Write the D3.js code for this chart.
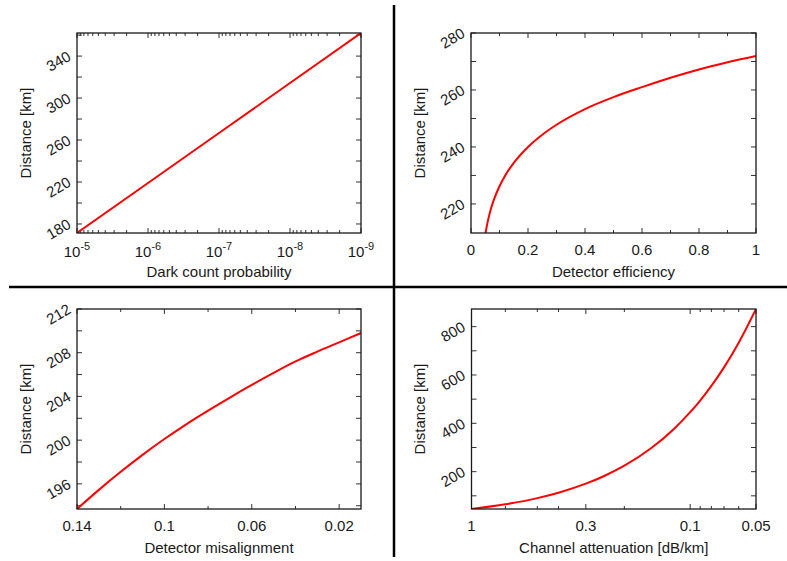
<!DOCTYPE html>
<html>
<head>
<meta charset="utf-8">
<script src="https://cdn.jsdelivr.net/npm/d3@7"></script>
<style>
  html, body { margin: 0; padding: 0; background: #fff; }
  svg { display: block; }
  text { font-family: "Liberation Sans", Arial, sans-serif; fill: #1a1a1a; }
</style>
</head>
<body>
<svg id="chart" width="787" height="561"></svg>
<script>
// ---------------- DATA ----------------
// Panel 1: dark count probability vs distance
const darkCountProb = [1e-5, 1e-6, 1e-7, 1e-8, 1e-9];
const darkCountDistance = [171.5, 219.0, 266.7, 314.3, 362.0];
const p1XTicks = [1e-5, 1e-6, 1e-7, 1e-8, 1e-9];
const p1XExponents = ["-5", "-6", "-7", "-8", "-9"];
const p1YTicks = [180, 220, 260, 300, 340];

// Panel 2: detector efficiency vs distance
const efficiency = [0.05, 0.06, 0.07, 0.08, 0.1, 0.12, 0.15, 0.2, 0.25, 0.3, 0.4, 0.5, 0.6, 0.7, 0.8, 0.9, 1.0];
const efficiencyDistance = [209.3, 214.4, 218.3, 221.4, 226.2, 230.0, 234.4, 240.0, 244.3, 247.8, 253.3, 257.5, 261.0, 264.3, 267.2, 269.7, 271.9];
const p2XTicks = [0, 0.2, 0.4, 0.6, 0.8, 1];
const p2XLabels = ["0", "0.2", "0.4", "0.6", "0.8", "1"];
const p2YTicks = [220, 240, 260, 280];

// Panel 3: detector misalignment vs distance
const misalignment = [0.14, 0.13, 0.12, 0.11, 0.10, 0.09, 0.08, 0.07, 0.06, 0.05, 0.04, 0.03, 0.02, 0.01];
const misalignmentDistance = [193.7, 195.45, 197.1, 198.65, 200.1, 201.45, 202.7, 203.9, 205.05, 206.15, 207.2, 208.1, 208.95, 209.8];
const p3XTicks = [0.14, 0.1, 0.06, 0.02];
const p3XLabels = ["0.14", "0.1", "0.06", "0.02"];
const p3YTicks = [196, 200, 204, 208, 212];

// Panel 4: channel attenuation vs distance
const attenuation = [1, 0.7, 0.5, 0.4, 0.3, 0.25, 0.2, 0.15, 0.12, 0.1, 0.09, 0.08, 0.07, 0.06, 0.05];
const attenuationDistance = [45.5, 64.9, 90.6, 113.0, 150.3, 180.0, 224.5, 298.7, 372.5, 446.0, 494.4, 555.0, 631.4, 733.3, 873.0];
const p4XTicks = [1, 0.3, 0.1, 0.05];
const p4XLabels = ["1", "0.3", "0.1", "0.05"];
const p4XMinor = [0.7, 0.5, 0.4, 0.2, 0.09, 0.08, 0.07, 0.06];
const p4YTicks = [200, 400, 600, 800];

// ---------------- DRAWING ----------------
const svg = d3.select("#chart");
const FONT = 15;

function logMinor(lo, hi) {
  const out = [];
  for (let e = Math.floor(Math.log10(lo)); e < Math.ceil(Math.log10(hi)); e++) {
    for (let m = 2; m <= 9; m++) {
      const v = m * Math.pow(10, e);
      if (v > lo && v < hi) out.push(v);
    }
  }
  return out;
}

function drawPanel(cfg) {
  const {x0, x1, y0, y1} = cfg;
  const x = cfg.xScale.range([x0, x1]);
  const y = d3.scaleLinear().domain(cfg.yDomain).range([y1, y0]);
  const g = svg.append("g");

  const clipId = "clip" + cfg.id;
  svg.append("clipPath").attr("id", clipId)
    .append("rect").attr("x", x0).attr("y", y0).attr("width", x1 - x0).attr("height", y1 - y0);

  // ticks (inside, mirrored)
  const tickG = g.append("g").attr("stroke", "#333").attr("stroke-width", 1);
  function xt(vals, len) {
    vals.forEach(v => {
      const px = x(v);
      tickG.append("line").attr("x1", px).attr("x2", px).attr("y1", y1).attr("y2", y1 - len);
      tickG.append("line").attr("x1", px).attr("x2", px).attr("y1", y0).attr("y2", y0 + len);
    });
  }
  function yt(vals, len) {
    vals.forEach(v => {
      const py = y(v);
      tickG.append("line").attr("x1", x0).attr("x2", x0 + len).attr("y1", py).attr("y2", py);
      tickG.append("line").attr("x1", x1).attr("x2", x1 - len).attr("y1", py).attr("y2", py);
    });
  }
  xt(cfg.xMajor, 5);
  xt(cfg.xMinor, 3);
  yt(cfg.yMajor, 5);
  yt(cfg.yMinor, 5);

  // curve
  const line = d3.line().x(d => x(d[0])).y(d => y(d[1])).curve(cfg.curve || d3.curveMonotoneX);
  const pts = cfg.xs.map((v, i) => [v, cfg.ys[i]]).sort((a, b) => x(a[0]) - x(b[0]));
  g.append("path").attr("d", line(pts)).attr("fill", "none").attr("stroke", "#ff0000")
    .attr("stroke-width", 2).attr("clip-path", `url(#${clipId})`);

  // frame
  g.append("rect").attr("x", x0).attr("y", y0).attr("width", x1 - x0).attr("height", y1 - y0)
    .attr("fill", "none").attr("stroke", "#1a1a1a").attr("stroke-width", 1.3);

  // x tick labels
  cfg.xMajor.forEach((v, i) => {
    const t = g.append("text").attr("x", x(v)).attr("text-anchor", "middle").attr("font-size", FONT);
    if (cfg.xExp) {
      t.attr("y", y1 + 24);
      t.append("tspan").text("10");
      t.append("tspan").attr("font-size", 11).attr("dy", -7).text(cfg.xExp[i]);
    } else {
      t.attr("y", y1 + 21.5).text(cfg.xLabels[i]);
    }
  });

  // y tick labels rotated
  cfg.yMajor.forEach(v => {
    const ax = x0 - 7, ay = y(v);
    g.append("text").attr("x", ax).attr("y", ay).attr("text-anchor", "end")
      .attr("dominant-baseline", "middle").attr("font-size", FONT)
      .attr("transform", `rotate(-30, ${ax}, ${ay})`).text(v);
  });

  // titles
  g.append("text").attr("x", (x0 + x1) / 2).attr("y", y1 + 44).attr("text-anchor", "middle")
    .attr("font-size", FONT).text(cfg.xTitle);
  const tx = x0 - 52, ty = (y0 + y1) / 2;
  g.append("text").attr("x", tx).attr("y", ty).attr("text-anchor", "middle")
    .attr("dominant-baseline", "central").attr("font-size", FONT)
    .attr("transform", `rotate(-90, ${tx}, ${ty})`).text("Distance [km]");
}

drawPanel({
  id: 1, x0: 77, x1: 361, y0: 33, y1: 233,
  xScale: d3.scaleLog().domain([1e-5, 1e-9]),
  yDomain: [171.4, 362],
  xMajor: p1XTicks, xMinor: logMinor(1e-9, 1e-5), xExp: p1XExponents,
  yMajor: p1YTicks, yMinor: [200, 240, 280, 320, 360],
  xs: darkCountProb, ys: darkCountDistance, curve: d3.curveLinear,
  xTitle: "Dark count probability"
});

drawPanel({
  id: 2, x0: 471, x1: 756, y0: 33, y1: 233,
  xScale: d3.scaleLinear().domain([0, 1]),
  yDomain: [209.8, 280],
  xMajor: p2XTicks, xMinor: [0.1, 0.3, 0.5, 0.7, 0.9], xLabels: p2XLabels,
  yMajor: p2YTicks, yMinor: [230, 250, 270],
  xs: efficiency, ys: efficiencyDistance,
  xTitle: "Detector efficiency"
});

drawPanel({
  id: 3, x0: 77, x1: 361, y0: 309, y1: 509,
  xScale: d3.scaleLinear().domain([0.14, 0.01]),
  yDomain: [193.7, 212],
  xMajor: p3XTicks, xMinor: [0.12, 0.08, 0.04], xLabels: p3XLabels,
  yMajor: p3YTicks, yMinor: [194, 198, 202, 206, 210],
  xs: misalignment, ys: misalignmentDistance,
  xTitle: "Detector misalignment"
});

drawPanel({
  id: 4, x0: 471.5, x1: 756, y0: 309, y1: 509,
  xScale: d3.scaleLog().domain([1, 0.05]),
  yDomain: [45.5, 873],
  xMajor: p4XTicks, xMinor: p4XMinor, xLabels: p4XLabels,
  yMajor: p4YTicks, yMinor: [100, 300, 500, 700],
  xs: attenuation, ys: attenuationDistance,
  xTitle: "Channel attenuation [dB/km]"
});

// dividers
svg.append("line").attr("x1", 394).attr("x2", 394).attr("y1", 5).attr("y2", 557)
  .attr("stroke", "#000").attr("stroke-width", 2.5);
svg.append("line").attr("x1", 9).attr("x2", 787).attr("y1", 287).attr("y2", 287)
  .attr("stroke", "#000").attr("stroke-width", 2.5);
</script>
</body>
</html>
